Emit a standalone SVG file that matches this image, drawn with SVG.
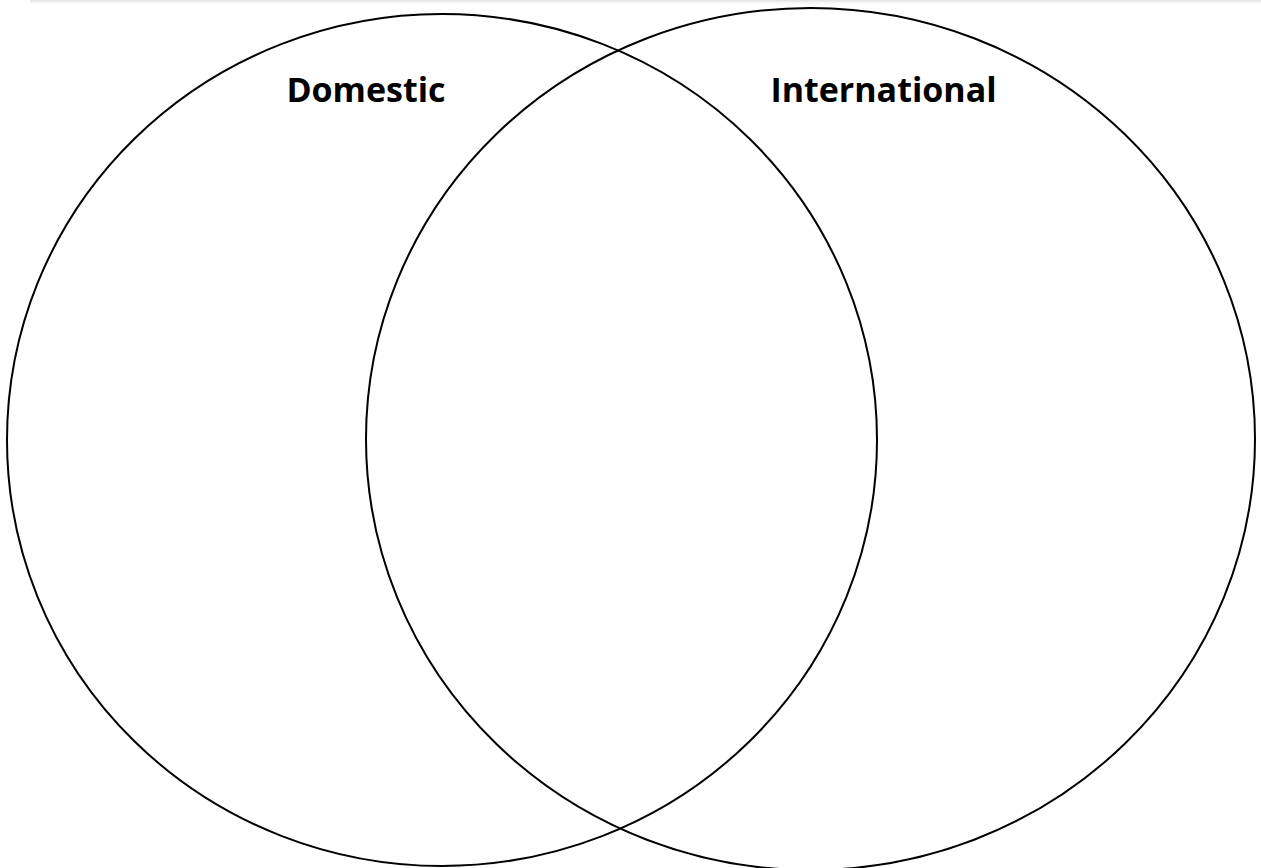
<svg xmlns="http://www.w3.org/2000/svg" width="1261" height="868" viewBox="0 0 1261 868">
<defs>
<linearGradient id="shadow" x1="0" y1="0" x2="0" y2="1">
<stop offset="0" stop-color="#e0e0e0"/>
<stop offset="1" stop-color="#ffffff" stop-opacity="0"/>
</linearGradient>
<style>
.set{fill:none;stroke:#000;stroke-width:2}
.lbl{font-family:"Open Sans","Liberation Sans",sans-serif;font-weight:700;font-size:34px;fill:#000;text-anchor:middle}
</style>
</defs>
<rect width="1261" height="868" fill="#fff"/>
<rect x="30" y="0" width="1231" height="6" fill="url(#shadow)"/>
<g id="domestic">
<ellipse class="set" cx="442" cy="440" rx="435" ry="426"/>
<text class="lbl" x="366" y="102">Domestic</text>
</g>
<g id="international">
<ellipse class="set" cx="810.5" cy="439" rx="444.5" ry="431"/>
<text class="lbl" x="883.5" y="102">International</text>
</g>
<g id="connectors"/>
</svg>
